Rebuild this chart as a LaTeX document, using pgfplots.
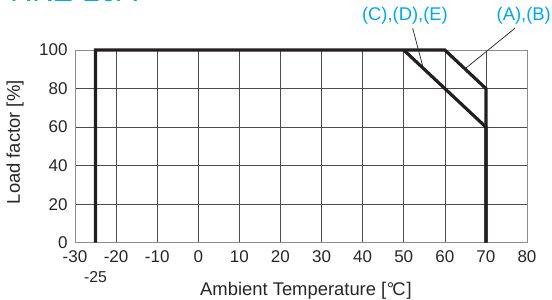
\documentclass[border=0pt]{standalone}
\usepackage{fontspec}
\setmainfont{Liberation Sans}
\usepackage{pgfplots}
\pgfplotsset{compat=1.18}
\definecolor{cyanlbl}{HTML}{00A8EC}
\definecolor{curve}{HTML}{231F20}
\begin{document}
\begin{tikzpicture}
\path (0pt,0pt) rectangle (552pt,300pt);
\node[overlay, anchor=base west, text=cyanlbl, font=\fontsize{30.5}{30.5}\selectfont, inner sep=0pt] at (10pt,298pt) {RKE-20A};
\begin{axis}[
  at={(75pt,57.3pt)}, anchor=south west, scale only axis,
  width=452pt, height=192.7pt,
  xmin=-30, xmax=80, ymin=0, ymax=100,
  xtick={-30,-20,...,80}, ytick={0,20,...,100},
  grid=major, major grid style={black!70, line width=0.6pt},
  axis line style={black!45, line width=0.8pt},
  major tick length=0pt,
  clip=false,
  /pgf/number format/assume math mode=true,
  tick label style={font=\fontsize{17}{17}\selectfont, text=black!85},
  xticklabel style={yshift=-4pt},
  yticklabel style={xshift=-4pt},
  extra x ticks={-25}, extra x tick labels={-25},
  extra x tick style={grid=none, major tick length=0pt, xticklabel style={yshift=-21pt, font=\fontsize{15.8}{15.8}\selectfont}},
  xlabel={Ambient Temperature [\kern0.5pt°\kern-1.8pt C\kern1pt]},
  ylabel={Load factor [\%]},
  label style={font=\fontsize{18.4}{18.4}\selectfont, text=black!85, inner sep=0pt},
  xlabel style={at={(axis description cs:0.5,0)}, anchor=base, yshift=-52.3pt, xshift=5pt},
  ylabel style={at={(axis description cs:0,0.5)}, anchor=base, yshift=55pt, xshift=4pt},
]
\addplot[curve, line width=3.2pt, line join=miter] coordinates {(-25,0) (-25,100) (60,100) (70,80) (70,0)};
\addplot[curve, line width=3.2pt, line join=miter] coordinates {(50,100) (70,60) (70,0)};
\addplot[curve, line width=0.7pt] coordinates {(52.18,111.3) (54.76,90.5)};
\addplot[curve, line width=0.7pt] coordinates {(77.08,111.3) (64.9,90.2)};
\node[anchor=base, text=cyanlbl, font=\fontsize{18.4}{18.4}\selectfont, inner sep=0pt] at (axis cs:50.3,115.05) {(C),(D),(E)};
\node[anchor=base, text=cyanlbl, font=\fontsize{18.4}{18.4}\selectfont, inner sep=0pt] at (axis cs:79.2,115.05) {(A),(B)};
\end{axis}
\end{tikzpicture}
\end{document}
